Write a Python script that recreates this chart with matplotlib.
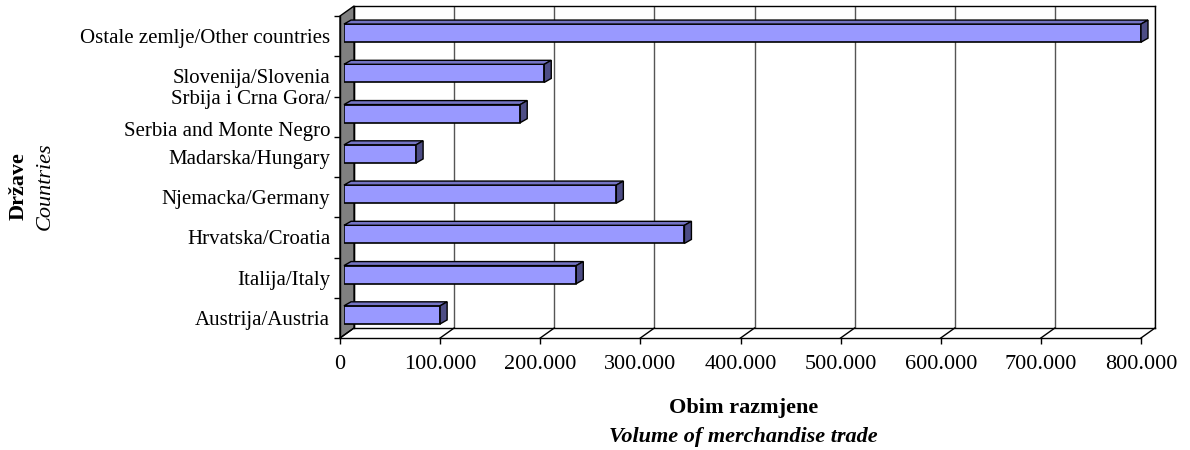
import matplotlib.pyplot as plt
from matplotlib.patches import Polygon

plt.rcParams['font.family'] = ['Liberation Serif', 'DejaVu Serif']

countries = ['Austrija/Austria', 'Italija/Italy', 'Hrvatska/Croatia',
             'Njemacka/Germany', 'Madarska/Hungary',
             'Srbija i Crna Gora/\nSerbia and Monte Negro',
             'Slovenija/Slovenia', 'Ostale zemlje/Other countries']
trade = [96000, 232000, 340000, 272000, 72000, 176000, 200000, 796000]
xticks = [0, 100000, 200000, 300000, 400000, 500000, 600000, 700000, 800000]

W, H = 1190, 450
fig = plt.figure(figsize=(W / 100, H / 100), dpi=100)


def box(x0, y0, x1, y1):
    # pixel box (from top-left) -> figure fraction rect
    return [x0 / W, 1 - y1 / H, (x1 - x0) / W, (y1 - y0) / H]


XMAX = 800000
YLIM = (-0.5, 7.5)
ux = XMAX / 800.0          # data units per pixel in x
uy = 8 / 322.0             # data units per pixel in y

back = fig.add_axes(box(354, 6, 1155, 328))
ax = fig.add_axes(box(340, 16, 1141, 338))
bars = fig.add_axes(box(344, 13, 1145, 335))
back.set_zorder(0)
ax.set_zorder(1)
bars.set_zorder(2)
for a in (back, ax, bars):
    a.set_xlim(0, XMAX)
    a.set_ylim(*YLIM)

# back wall with gridlines
back.set_xticks(xticks)
back.set_yticks([])
back.tick_params(length=0, labelbottom=False)
back.grid(axis='x', color='#555555', lw=1)
for s in back.spines.values():
    s.set_color('black')
    s.set_linewidth(1)

# front axes: side wall, floor, ticks
ax.patch.set_visible(False)
ax.spines['top'].set_visible(False)
ax.spines['right'].set_visible(False)
ax.spines['left'].set_linewidth(1)
ax.spines['bottom'].set_linewidth(1)
dx, dy = 14 * ux, 10 * uy
ax.add_patch(Polygon([(0, YLIM[0]), (0, YLIM[1]), (dx, YLIM[1] + dy), (dx, YLIM[0] + dy)],
                     closed=True, facecolor='#808080', edgecolor='black', lw=1, clip_on=False))
for t in xticks:
    ax.plot([t, t + dx], [YLIM[0], YLIM[0] + dy], color='black', lw=1, clip_on=False)
ax.set_xticks(xticks)
ax.set_xticklabels(['0' if t == 0 else f'{t:,.0f}'.replace(',', '.') for t in xticks])
ax.tick_params(axis='x', direction='out', length=4, width=1, pad=8, labelsize=16)
ax.set_yticks([i - 0.5 for i in range(9)])
ax.set_yticklabels([])
ax.tick_params(axis='y', direction='out', length=4, width=1)
ax.set_yticks(range(8), minor=True)
# the two-line label is placed by hand, a little higher in its band
ax.set_yticklabels(['' if '\n' in c else c for c in countries], minor=True, fontsize=15)
ax.tick_params(axis='y', which='minor', length=0, pad=7)
for i, c in enumerate(countries):
    if '\n' in c:
        ax.annotate(c, xy=(0, i), xycoords=('axes fraction', 'data'), xytext=(-7, 1),
                    textcoords='offset points', ha='right', va='center',
                    fontsize=15, linespacing=1.9, annotation_clip=False)

# bars with pseudo-3D faces
bars.axis('off')
h = 0.45
bdx, bdy = 7 * ux, 4 * uy
bars.barh(range(len(trade)), trade, height=h, color='#9999ff', edgecolor='black', lw=1.2)
for i, v in enumerate(trade):
    yt, yb = i + h / 2, i - h / 2
    bars.add_patch(Polygon([(0, yt), (v, yt), (v + bdx, yt + bdy), (bdx, yt + bdy)],
                           closed=True, facecolor='#7474c4', edgecolor='black', lw=1, clip_on=False))
    bars.add_patch(Polygon([(v, yb), (v, yt), (v + bdx, yt + bdy), (v + bdx, yb + bdy)],
                           closed=True, facecolor='#4d4d85', edgecolor='black', lw=1, clip_on=False))

# axis titles
fig.text(744 / W, 1 - 408 / H, 'Obim razmjene', ha='center', va='center',
         fontsize=16, fontweight='bold')
fig.text(743 / W, 1 - 437 / H, 'Volume of merchandise trade', ha='center', va='center',
         fontsize=16, fontweight='bold', style='italic')
fig.text(19 / W, 1 - 186 / H, 'Države', ha='center', va='center', rotation=90,
         fontsize=16, fontweight='bold')
fig.text(45 / W, 1 - 186 / H, 'Countries', ha='center', va='center', rotation=90,
         fontsize=16, style='italic')

fig.savefig('out.png', dpi=100)
